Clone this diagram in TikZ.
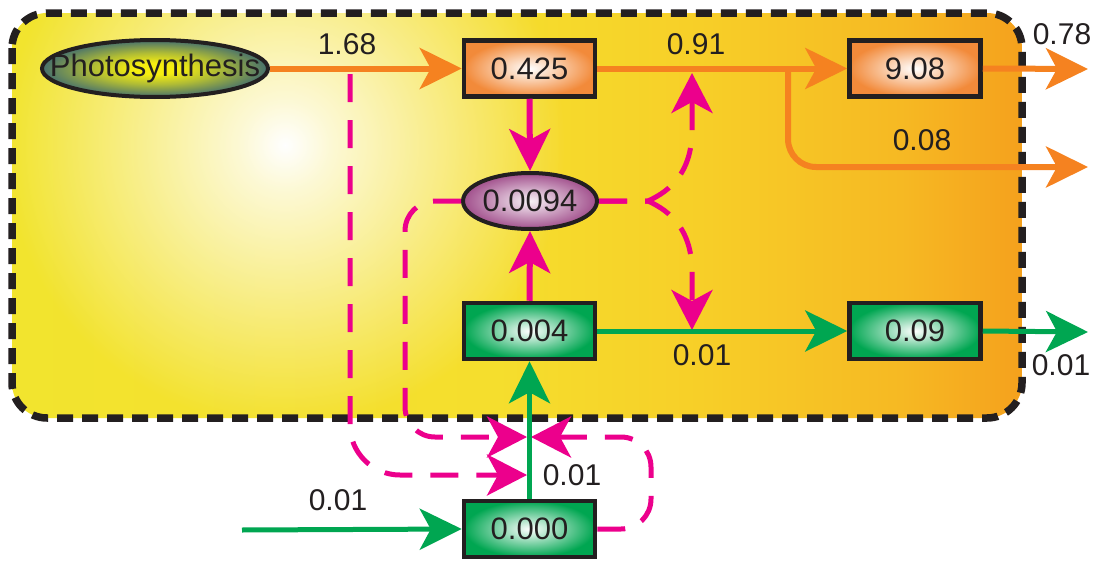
\documentclass[tikz,border=0pt]{standalone}
\usepackage{fontspec}
\setmainfont{Liberation Sans}
\usetikzlibrary{arrows.meta,shapes.geometric,fadings}
\definecolor{ink}{HTML}{231F20}
\definecolor{org}{HTML}{F58220}
\definecolor{orgbox}{HTML}{F28A3A}
\definecolor{grn}{HTML}{00A651}
\definecolor{mag}{HTML}{EC008C}
\definecolor{purp}{HTML}{A14F8C}
\definecolor{phY}{HTML}{F6EE10}
\definecolor{phT}{HTML}{46706D}
\definecolor{bgA}{HTML}{F2E42E}
\definecolor{bgB}{HTML}{F5DE2D}
\definecolor{bgC}{HTML}{F7CF28}
\definecolor{bgD}{HTML}{F6B923}
\definecolor{bgE}{HTML}{F5A11D}
\pgfdeclarehorizontalshading{bgshade}{100bp}{color(0bp)=(bgA); color(25bp)=(bgA); color(49bp)=(bgB); color(59bp)=(bgC); color(69bp)=(bgD); color(75bp)=(bgE); color(100bp)=(bgE)}
\pgfdeclareradialshading{glowsh}{\pgfpointorigin}{color(0bp)=(white); color(4bp)=(white!80!black); color(25bp)=(black); color(50bp)=(black)}
\pgfdeclarefading{glow}{\pgfuseshading{glowsh}}
\pgfdeclareradialshading{photosh}{\pgfpointorigin}{color(0bp)=(phY); color(5bp)=(phY); color(14bp)=(phY!60!phT); color(25bp)=(phT); color(50bp)=(phT)}
\newcommand\nfnt{\fontsize{31}{36}\selectfont}
\newcommand\lfnt{\fontsize{30}{35}\selectfont}
\tikzset{
  box/.style={rectangle, draw=ink, line width=4.5pt, minimum width=131pt, minimum height=56pt, inner sep=0pt, text=ink, font=\nfnt},
  obox/.style={box, inner color=white, outer color=orgbox},
  gbox/.style={box, inner color=white, outer color=grn},
  ell/.style={ellipse, draw=ink, line width=4pt, inner sep=0pt, text=ink, font=\nfnt},
  lbl/.style={text=ink, font=\lfnt, inner sep=0pt},
  bigtip/.style={-{Stealth[length=42pt,width=41pt,inset=11pt]}},
  oarr/.style={draw=org, line width=6pt, bigtip},
  garr/.style={draw=grn, line width=5pt, bigtip},
  parr/.style={draw=mag, line width=6pt, bigtip},
  pdash/.style={draw=mag, line width=5pt, dash pattern=on 28pt off 18pt, -{Stealth[length=40pt,width=41pt,inset=11pt]}},
  border/.style={draw=ink, line width=7.5pt, dash pattern=on 16pt off 9pt, rounded corners=35pt}
}
\begin{document}
\begin{tikzpicture}[x=1pt,y=-1pt]
\useasboundingbox (0,0) rectangle (1096,562);
% background panel
\begin{scope}
  \clip[rounded corners=35pt] (12,13) rectangle (1022,418);
  \shade[shading=bgshade] (12,13) rectangle (1022,418);
  \fill[white, path fading=glow] (285,145) circle (280pt);
\end{scope}
\draw[border] (12,13) rectangle (1022,418);

% nodes
\node[ell, minimum width=226pt, minimum height=57pt, shade, shading=photosh] (photo) at (155,68.5) {\makebox[0pt]{Photosynthesis}};
\node[obox] (n425) at (529.5,68.5) {0.425};
\node[obox] (n908) at (915,68.5) {9.08};
\node[ell, minimum width=134pt, minimum height=56pt, inner color=purp!8, outer color=purp] (n0094) at (530,201) {\makebox[0pt]{0.0094}};
\node[gbox] (n004) at (529.5,331) {0.004};
\node[gbox] (n09) at (915,331) {0.09};
\node[gbox] (n000) at (529.5,529) {0.000};

% free ends and bends
\coordinate (o1) at (1088,69);
\coordinate (o2) at (1088,167);
\coordinate (o3) at (1088,332);
\coordinate (inp) at (242,530);
\coordinate (br) at (788,69);
\coordinate (pA) at (350,74);
\coordinate (tA) at (527,475);
\coordinate (tB) at (527,437);
\coordinate (tC) at (531,437);
\coordinate (jn) at (648,201);
\coordinate (tU) at (692,73);
\coordinate (tD) at (692,330);

% orange flows
\draw[oarr] (photo.east) -- (n425.west);
\draw[oarr] (n425.east) -- (n908.west);
\draw[oarr, rounded corners=28pt] (br) |- (o2);
\draw[oarr] (n908.east) -- (o1);

% pink dashed controls
\draw[pdash, rounded corners=50pt] (pA) |- (tA);
\draw[pdash, rounded corners=30pt] (n0094.west) -- (405,201) -- (405,437) -- (tB);
\draw[pdash, rounded corners=30pt] (n000.east) -- (651,529) -- (651,437) -- (tC);
\draw[pdash] (n0094.east) -- (jn) .. controls (672,190) and (690,172) .. (692,135) -- (tU);
\draw[pdash] (n0094.east) -- (jn) .. controls (672,212) and (690,230) .. (692,267) -- (tD);

% pink solid
\draw[parr] (n425.south) -- (n0094.north);
\draw[parr] (n004.north) -- (n0094.south);

% green flows
\draw[garr] (n004.east) -- (n09.west);
\draw[garr] (n09.east) -- (o3);
\draw[garr] (inp) -- (n000.west);
\draw[garr] (n000.north) -- (n004.south);

% labels
\node[lbl] (l168) at (347,44) {1.68};
\node[lbl] (l091) at (696,44) {0.91};
\node[lbl] (l078) at (1062,34) {0.78};
\node[lbl] (l008) at (922,140) {0.08};
\node[lbl] (l001a) at (702,355) {0.01};
\node[lbl] (l001b) at (1061,365) {0.01};
\node[lbl] (l001c) at (572,475) {0.01};
\node[lbl] (l001d) at (338,500) {0.01};
\end{tikzpicture}
\end{document}
